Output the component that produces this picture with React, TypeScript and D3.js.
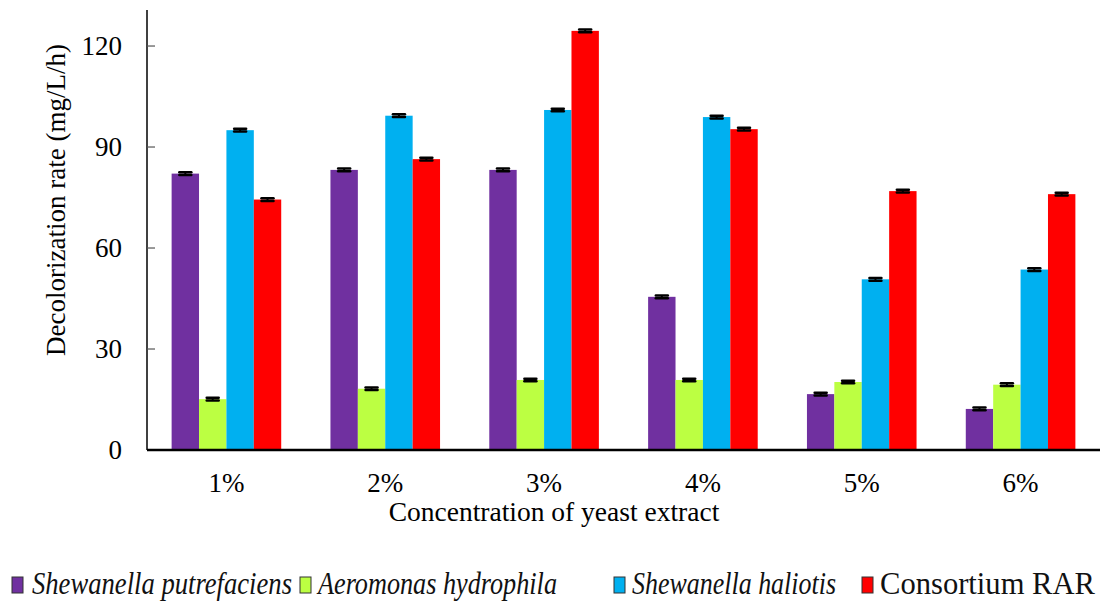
import React from "react";
import * as d3 from "d3";

const categories = ["1%", "2%", "3%", "4%", "5%", "6%"];
const seriesNames = [
  "Shewanella putrefaciens",
  "Aeromonas hydrophila",
  "Shewanella haliotis",
  "Consortium RAR",
];
const italicSeries = [true, true, true, false];
const seriesColors = ["#7030A0", "#BCFF42", "#00B0F0", "#FF0000"];

const putrefaciens = [82.1, 83.2, 83.2, 45.5, 16.6, 12.2];
const hydrophila = [15.1, 18.2, 20.8, 20.8, 20.2, 19.4];
const haliotis = [95.0, 99.3, 101.0, 98.9, 50.7, 53.6];
const consortium = [74.4, 86.4, 124.5, 95.3, 76.9, 76.0];
const seriesValues = [putrefaciens, hydrophila, haliotis, consortium];
const errors = [0.4, 0.4, 0.4, 0.4];

const yTicks = [0, 30, 60, 90, 120];

const W = 1103;
const H = 603;
const margin = { left: 147, right: 3, top: 10, bottom: 153 };
const serif = "Liberation Serif, Times New Roman, Times, serif";

export default function App() {
  const x0 = d3
    .scaleBand<string>()
    .domain(categories)
    .range([margin.left, W - margin.right])
    .paddingInner(0.31)
    .paddingOuter(0.155);
  const x1 = d3
    .scaleBand<number>()
    .domain(d3.range(seriesNames.length))
    .range([0, x0.bandwidth()]);
  const y = d3
    .scaleLinear()
    .domain([0, 130.7])
    .range([H - margin.bottom, margin.top]);

  const baseY = y(0);
  const capW = 12;

  // legend swatch x, text start, text width
  const legendItems = [
    { sx: 12, tx: 32, tw: 260 },
    { sx: 300, tx: 318, tw: 239 },
    { sx: 614, tx: 632, tw: 204 },
    { sx: 862, tx: 880, tw: 215 },
  ];

  const textStyle = { fontFamily: serif };

  return (
    <svg
      width={W}
      height={H}
      style={{ position: "absolute", left: 0, top: 0, background: "#fff" }}
    >
      {/* bars */}
      {categories.map((c, ci) => (
        <g key={c}>
          {seriesValues.map((vals, si) => {
            const bx = (x0(c) ?? 0) + (x1(si) ?? 0);
            const bw = x1.bandwidth();
            const v = vals[ci];
            return (
              <rect
                key={si}
                x={bx}
                y={y(v)}
                width={bw}
                height={baseY - y(v)}
                fill={seriesColors[si]}
              />
            );
          })}
        </g>
      ))}

      {/* error bars */}
      {categories.map((c, ci) => (
        <g key={"e" + c}>
          {seriesValues.map((vals, si) => {
            const cx = (x0(c) ?? 0) + (x1(si) ?? 0) + x1.bandwidth() / 2;
            const v = vals[ci];
            const e = errors[si];
            return (
              <g key={si} stroke="#000">
                <line x1={cx} x2={cx} y1={y(v + e)} y2={y(v - e)} strokeWidth={2} />
                <line
                  x1={cx - capW / 2}
                  x2={cx + capW / 2}
                  y1={y(v + e)}
                  y2={y(v + e)}
                  strokeWidth={2.5}
                  strokeLinecap="round"
                />
                <line
                  x1={cx - capW / 2}
                  x2={cx + capW / 2}
                  y1={y(v - e)}
                  y2={y(v - e)}
                  strokeWidth={2.5}
                  strokeLinecap="round"
                />
              </g>
            );
          })}
        </g>
      ))}

      {/* y axis */}
      <line
        x1={margin.left}
        x2={margin.left}
        y1={margin.top}
        y2={baseY}
        stroke="#000"
        strokeWidth={1.5}
      />
      {yTicks.map((t) => (
        <g key={t}>
          {t > 0 && (
            <line
              x1={margin.left}
              x2={margin.left + 8}
              y1={y(t)}
              y2={y(t)}
              stroke="#555"
              strokeWidth={1.2}
            />
          )}
          <text
            x={122}
            y={y(t)}
            textAnchor="end"
            dominantBaseline="central"
            style={textStyle}
            fontSize={27}
            fill="#000"
          >
            {t}
          </text>
        </g>
      ))}

      {/* x axis */}
      <line
        x1={margin.left}
        x2={W - margin.right}
        y1={baseY}
        y2={baseY}
        stroke="#000"
        strokeWidth={2.5}
      />
      {categories.map((c) => (
        <text
          key={c}
          x={(x0(c) ?? 0) + x0.bandwidth() / 2}
          y={492}
          textAnchor="middle"
          style={textStyle}
          fontSize={27}
          fill="#000"
        >
          {c}
        </text>
      ))}

      {/* axis titles */}
      <text
        x={554}
        y={521}
        textAnchor="middle"
        style={textStyle}
        fontSize={27.5}
        fill="#000"
      >
        Concentration of yeast extract
      </text>
      <text
        transform={`translate(65,200) rotate(-90)`}
        textAnchor="middle"
        style={textStyle}
        fontSize={27}
        fill="#000"
      >
        Decolorization rate (mg/L/h)
      </text>

      {/* legend */}
      {legendItems.map((it, i) => (
        <g key={i}>
          <rect
            x={it.sx}
            y={577}
            width={11}
            height={16}
            fill={seriesColors[i]}
            stroke="#333"
            strokeWidth={1}
          />
          <text
            x={it.tx}
            y={594}
            style={textStyle}
            fontSize={31}
            fontStyle={italicSeries[i] ? "italic" : "normal"}
            textLength={it.tw}
            lengthAdjust="spacingAndGlyphs"
            fill="#111"
          >
            {seriesNames[i]}
          </text>
        </g>
      ))}
    </svg>
  );
}
